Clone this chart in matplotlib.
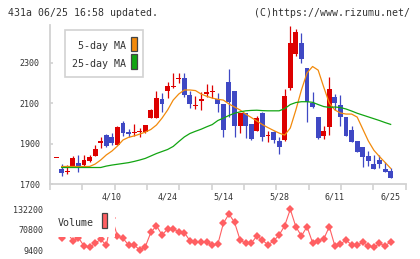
import numpy as np
from matplotlib import pyplot as plt
from matplotlib.patches import Rectangle

# daily candles, oldest first (431a, about 3 months)
opens = [1830, 1774, 1759, 1792, 1804, 1795, 1815, 1840, 1902, 1943,
         1935, 1894, 2001, 1956, 1952, 1956, 1956, 2029, 2030, 2120,
         2162, 2180, 2218, 2223, 2141, 2087, 2114, 2146, 2155, 2121,
         2097, 2205, 2161, 1990, 2051, 1998, 1965, 2054, 1938, 1960,
         1915, 1919, 2174, 2342, 2399, 2273, 2103, 2031, 1940, 1984,
         2133, 2092, 2032, 1968, 1914, 1883, 1840, 1800, 1820, 1774, 1766]
highs = [1830, 1799, 1793, 1840, 1845, 1845, 1845, 1894, 1936, 1947,
         1952, 1987, 2013, 1971, 1996, 1976, 1995, 2070, 2161, 2152,
         2207, 2248, 2248, 2248, 2160, 2135, 2157, 2194, 2190, 2149,
         2099, 2268, 2162, 2053, 2053, 2000, 2037, 2056, 1963, 1962,
         1935, 2171, 2480, 2467, 2449, 2275, 2157, 2033, 1990, 2231,
         2146, 2141, 2034, 1989, 1916, 1885, 1863, 1845, 1845, 1812, 1779]
lows = [1830, 1743, 1749, 1787, 1762, 1783, 1810, 1838, 1878, 1882,
        1892, 1892, 1941, 1934, 1939, 1936, 1954, 2027, 2026, 2058,
        2128, 2174, 2199, 2133, 2075, 2072, 2067, 2133, 2125, 2058,
        1932, 2031, 1932, 1952, 1927, 1919, 1963, 1914, 1907, 1902,
        1850, 1914, 2166, 2334, 2300, 2009, 2078, 1925, 1922, 1946,
        2067, 1988, 1937, 1908, 1859, 1787, 1789, 1776, 1780, 1760, 1731]
closes = [1830, 1758, 1762, 1831, 1780, 1820, 1836, 1873, 1914, 1891,
          1906, 1984, 1952, 1948, 1957, 1961, 1993, 2067, 2126, 2099,
          2185, 2183, 2221, 2141, 2095, 2090, 2118, 2158, 2159, 2099,
          1966, 2108, 1990, 2051, 1989, 1924, 2029, 1935, 1942, 1919,
          1883, 2137, 2399, 2451, 2317, 2108, 2080, 1927, 1963, 2170,
          2103, 2034, 1939, 1910, 1861, 1836, 1817, 1778, 1800, 1762, 1733]

ma5 = [np.nan, 1788, 1788, 1788, 1788, 1788, 1788, 1800, 1820, 1845,
       1864, 1889, 1919, 1932, 1939, 1948, 1958, 1971, 1993, 2027,
       2067, 2116, 2146, 2166, 2166, 2163, 2146, 2135, 2126, 2120,
       2116, 2097, 2082, 2067, 2047, 2030, 2013, 1995, 1980, 1966,
       1953, 1943, 1978, 2067, 2166, 2250, 2282, 2264, 2180, 2101,
       2067, 2052, 2047, 2047, 2032, 1973, 1914, 1868, 1837, 1808, 1779]
ma25 = [np.nan, 1783, 1783, 1783, 1783, 1783, 1783, 1783, 1783, 1790,
        1795, 1799, 1803, 1807, 1813, 1820, 1828, 1840, 1852, 1862,
        1872, 1887, 1911, 1934, 1951, 1962, 1972, 1984, 1995, 2015,
        2027, 2040, 2051, 2058, 2063, 2065, 2066, 2064, 2063, 2063,
        2063, 2074, 2094, 2104, 2108, 2108, 2105, 2094, 2084, 2080,
        2082, 2079, 2072, 2062, 2051, 2042, 2033, 2024, 2015, 2005, 1996]

volumes = [63700, 46500, 63700, 36600, 46500, 21500, 17500, 29600, 41700, 23600,
           105900, 51600, 44700, 24500, 24500, 9400, 19400, 62800, 82700, 54700,
           72800, 72800, 64600, 61600, 37500, 32600, 32600, 34400, 24500, 26600,
           90000, 118000, 93000, 39600, 29600, 29600, 51600, 39600, 24500, 36600,
           54700, 82700, 132200, 79700, 51600, 79700, 31400, 37500, 42600, 79700,
           21500, 27500, 39600, 24500, 24500, 32600, 21500, 17500, 29600, 21500, 34400]

date_labels = ["4/10", "4/24", "5/14", "5/28", "6/11", "6/25"]
date_label_idx = [10, 20, 30, 40, 50, 60]
price_ticks = [1700, 1900, 2100, 2300]
volume_ticks = [9400, 70800, 132200]

W, H = 420, 259
UP = "#dd0000"
DOWN = "#3f48c4"
ORANGE = "#f28a0c"
GREEN = "#12a512"
VOL = "#ff5f62"
GRID = "#d2d2d2"
TEXT = "#333333"
MONO = "DejaVu Sans Mono"


def fig_rect(x0, y0, x1, y1):
    """pixel box (top-left origin) -> figure fraction rect"""
    return [x0 / W, 1 - y1 / H, (x1 - x0) / W, (y1 - y0) / H]


def px(x, y):
    return x / W, 1 - y / H


def draw_candles(ax):
    idx = np.arange(len(opens))
    o = np.array(opens, dtype=float)
    c = np.array(closes, dtype=float)
    colors = [UP if cc >= oo else DOWN for oo, cc in zip(o, c)]
    ax.vlines(idx, lows, highs, colors=colors, linewidth=0.9, zorder=2)
    bottoms = np.minimum(o, c)
    heights = np.maximum(np.abs(c - o), 5)
    ax.bar(idx, heights, bottom=bottoms, width=0.88, color=colors,
           linewidth=0, zorder=3)
    ax.plot(idx, ma5, color=ORANGE, linewidth=0.9, zorder=4)
    ax.plot(idx, ma25, color=GREEN, linewidth=0.9, zorder=4)


def main():
    plt.rcParams["font.family"] = [MONO]
    fig = plt.figure(figsize=(W / 100, H / 100), dpi=100)
    fig.patch.set_facecolor("white")

    xlim = (-1.094, 62.7)

    # price panel
    ax = fig.add_axes(fig_rect(50, 25, 405.7, 184.3))
    draw_candles(ax)
    ax.set_xlim(*xlim)
    ax.set_ylim(1700, 2487)
    for side in ["top", "right"]:
        ax.spines[side].set_visible(False)
    for side in ["left", "bottom"]:
        ax.spines[side].set_color(GRID)
        ax.spines[side].set_linewidth(1.3)
    ax.set_yticks(price_ticks)
    ax.set_yticklabels([str(t) for t in price_ticks])
    ax.tick_params(axis="y", direction="in", length=2.5, width=1.2,
                   color=GRID, pad=7.5, labelsize=6, labelcolor=TEXT)
    ax.set_xticks(np.linspace(xlim[0], xlim[1], 12))
    ax.set_xticklabels([])
    ax.tick_params(axis="x", which="major", direction="out", length=4,
                   width=1.2, color=GRID)
    ax.set_xticks(date_label_idx, minor=True)
    ax.set_xticklabels(date_labels, minor=True)
    ax.tick_params(axis="x", which="minor", length=0, pad=6,
                   labelsize=6, labelcolor=TEXT)

    # volume panel
    vax = fig.add_axes(fig_rect(50, 205, 405.7, 253))
    vax.plot(np.arange(len(volumes)), volumes, color=VOL, linewidth=0.8,
             marker="D", markersize=3.6, markeredgewidth=0)
    vax.set_xlim(*xlim)
    vax.set_ylim(349, 145165)
    for s in vax.spines.values():
        s.set_visible(False)
    vax.set_xticks([])
    vax.set_yticks(volume_ticks)
    vax.set_yticklabels([str(t) for t in volume_ticks])
    vax.tick_params(axis="y", length=0, pad=5, labelsize=6, labelcolor=TEXT)

    # volume legend (white box hides the line under it)
    fig.add_artist(Rectangle(px(52, 237), 62.5 / W, 30 / H, transform=fig.transFigure,
                             facecolor="white", edgecolor="none", zorder=5))
    fig.text(*px(58, 222.5), "Volume", fontsize=7.2, color=TEXT,
             ha="left", va="center", zorder=6)
    fig.add_artist(Rectangle(px(101.7, 228), 5.6 / W, 15 / H, transform=fig.transFigure,
                             facecolor=VOL, edgecolor="#444444", linewidth=0.9, zorder=6))

    # MA legend
    fig.add_artist(Rectangle(px(65, 77), 78 / W, 47 / H, transform=fig.transFigure,
                             facecolor="white", edgecolor=GRID, linewidth=1.2, zorder=5))
    fig.text(*px(125.5, 46), "5-day MA", fontsize=7.2, color=TEXT,
             ha="right", va="center", zorder=6)
    fig.text(*px(125.5, 63.5), "25-day MA", fontsize=7.2, color=TEXT,
             ha="right", va="center", zorder=6)
    fig.add_artist(Rectangle(px(131, 50.7), 5.7 / W, 13.4 / H, transform=fig.transFigure,
                             facecolor=ORANGE, edgecolor="#444444", linewidth=0.9, zorder=6))
    fig.add_artist(Rectangle(px(131, 69.3), 5.7 / W, 15.3 / H, transform=fig.transFigure,
                             facecolor=GREEN, edgecolor="#444444", linewidth=0.9, zorder=6))

    # header
    fig.text(*px(8, 12.7), "431a 06/25 16:58 updated.", fontsize=7.1,
             color=TEXT, ha="left", va="center")
    fig.text(*px(410.5, 12.7), "(C)https://www.rizumu.net/", fontsize=7.1,
             color=TEXT, ha="right", va="center")

    fig.savefig("out.png", dpi=100, facecolor="white")


if __name__ == "__main__":
    main()
